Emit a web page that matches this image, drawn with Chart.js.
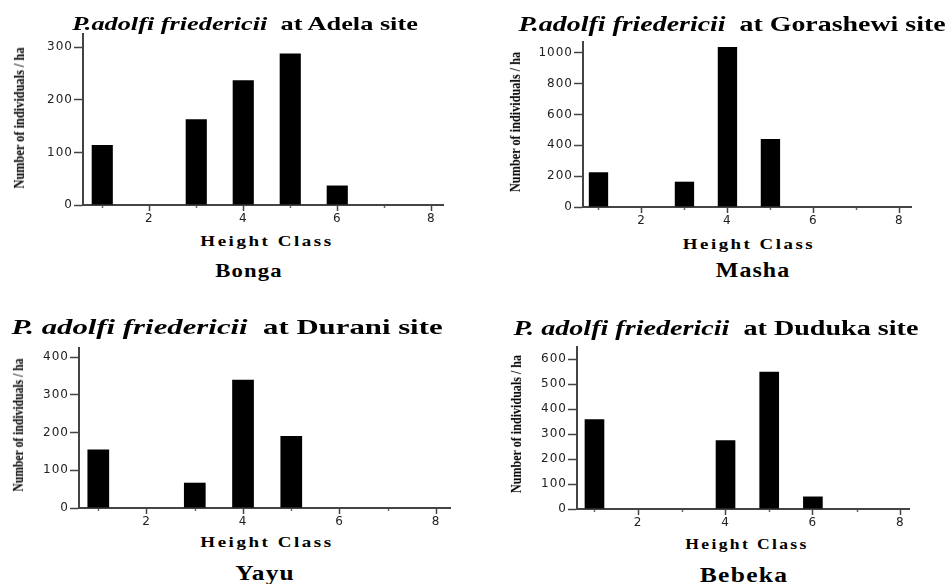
<!DOCTYPE html>
<html>
<head>
<meta charset="utf-8">
<script src="https://cdn.jsdelivr.net/npm/chart.js@4.4.4/dist/chart.umd.min.js"></script>
<style>
  body { margin: 0; background: #fff; width: 949px; height: 584px; position: relative; overflow: hidden; font-family: "Liberation Serif", "Times New Roman", serif; }
  canvas { position: absolute; }
  .txt { position: absolute; white-space: nowrap; font-weight: bold; line-height: 1; color: #000; }
</style>
</head>
<body>
<script>
  // ---- data ----
  const heightClasses = [1, 2, 3, 4, 5, 6];
  const bongaValues  = [114, 0, 163, 237, 288, 37];
  const mashaValues  = [225, 0, 164, 1037, 440, 0];
  const yayuValues   = [155, 0, 67, 340, 191, 0];
  const bebekaValues = [360, 0, 0, 275, 550, 50];

  const xTickLabels = [2, 4, 6, 8];
  const xMinorTicks = [1, 3, 5, 7];
  const bongaYTicks  = [0, 100, 200, 300];
  const mashaYTicks  = [0, 200, 400, 600, 800, 1000];
  const yayuYTicks   = [0, 100, 200, 300, 400];
  const bebekaYTicks = [0, 100, 200, 300, 400, 500, 600];

  const speciesNames = ['P.adolfi friedericii', 'P.adolfi friedericii', 'P. adolfi friedericii', 'P. adolfi friedericii'];
  const siteTitles   = ['at Adela site', 'at Gorashewi site', 'at Durani site', 'at Duduka site'];
  const forestNames  = ['Bonga', 'Masha', 'Yayu', 'Bebeka'];
  const xAxisTitle = 'Height Class';
  const yAxisTitle = 'Number of individuals / ha';

  // ---- layout (pixel geometry of each panel) ----
  const panels = [
    { values: bongaValues,  yTicks: bongaYTicks,  yMax: 325,  xMin: 0.59, xMax: 8.25, area: [83, 443, 34, 205],
      title: { cx: 245, cy: 23, w: 346, fs: 19 }, xt: { cx: 266.5, cy: 241, w: 133 }, site: { cx: 249, cy: 269.5, w: 68, fs: 19 }, yt: { cx: 18.5, cy: 118, len: 141 } },
    { values: mashaValues,  yTicks: mashaYTicks,  yMax: 1069, xMin: 0.64, xMax: 8.27, area: [583, 911, 42, 207],
      title: { cx: 731.5, cy: 23.5, w: 427, fs: 20 }, xt: { cx: 749, cy: 244, w: 132 }, site: { cx: 752.5, cy: 269.5, w: 75, fs: 22 }, yt: { cx: 515, cy: 122, len: 140 } },
    { values: yayuValues,   yTicks: yayuYTicks,   yMax: 424,  xMin: 0.6,  xMax: 8.29, area: [79, 450, 348, 508],
      title: { cx: 227, cy: 327, w: 431, fs: 22 }, xt: { cx: 266.7, cy: 542, w: 133 }, site: { cx: 265, cy: 572.5, w: 60, fs: 22 }, yt: { cx: 18, cy: 425, len: 133 } },
    { values: bebekaValues, yTicks: bebekaYTicks, yMax: 649,  xMin: 0.6,  xMax: 8.2,  area: [577, 909, 347, 509],
      title: { cx: 715.5, cy: 328.3, w: 405, fs: 20 }, xt: { cx: 746.7, cy: 543.5, w: 123 }, site: { cx: 744, cy: 575, w: 88, fs: 20 }, yt: { cx: 516, cy: 424, len: 138 } }
  ];

  const PAD_TOP = 10, PAD_RIGHT = 12, X_AXIS_H = 24, Y_AXIS_W = 60;
  const AXIS_COLOR = '#444';
  const TICK_FONT = { family: 'DejaVu Sans', size: 12 };

  // small unlabeled ticks at the odd height classes
  const minorTicksPlugin = {
    id: 'minorTicks',
    afterDraw(chart) {
      const xs = chart.scales.x, ctx = chart.ctx, y0 = chart.chartArea.bottom;
      ctx.save();
      ctx.strokeStyle = '#666';
      ctx.lineWidth = 1.5;
      xMinorTicks.forEach(function (v) {
        const px = Math.round(xs.getPixelForValue(v)) + 0.5;
        ctx.beginPath();
        ctx.moveTo(px, y0 + 1);
        ctx.lineTo(px, y0 + 3);
        ctx.stroke();
      });
      ctx.restore();
    }
  };

  // the scanned figure is stretched sideways; widen the tick digits a little
  const spacingPlugin = {
    id: 'tickSpacing',
    beforeDraw(chart) { chart.ctx.letterSpacing = '1px'; },
    afterDraw(chart) { chart.ctx.letterSpacing = '0px'; }
  };

  function plainNumber(v) { return String(v); }

  function addText(html, styles) {
    const el = document.createElement('div');
    el.className = 'txt';
    el.innerHTML = html;
    Object.assign(el.style, styles);
    document.body.appendChild(el);
    return el;
  }

  // horizontal text, centred at (cx, cy) and stretched to width w
  function placeText(html, box, fs, extra) {
    const el = addText(html, Object.assign({ left: box.cx + 'px', top: box.cy + 'px', fontSize: fs + 'px' }, extra || {}));
    const sx = box.w / el.offsetWidth;
    el.style.transform = 'translate(-50%,-50%) scaleX(' + sx.toFixed(3) + ')';
    return el;
  }

  // rotated y-axis label, stretched to length len
  function placeYTitle(box) {
    const el = addText(yAxisTitle, { left: box.cx + 'px', top: box.cy + 'px', fontSize: '12px' });
    const sx = box.len / el.offsetWidth;
    el.style.transform = 'translate(-50%,-50%) rotate(-90deg) scaleX(' + sx.toFixed(3) + ') scaleY(1.3)';
  }

  panels.forEach(function (p, i) {
    const [L, R, T, B] = p.area;
    const cLeft = L - Y_AXIS_W;
    const cTop = T - PAD_TOP;
    const canvas = document.createElement('canvas');
    canvas.width = R + PAD_RIGHT - cLeft;
    canvas.height = B + X_AXIS_H - cTop;
    canvas.style.left = cLeft + 'px';
    canvas.style.top = cTop + 'px';
    document.body.appendChild(canvas);

    new Chart(canvas, {
      type: 'bar',
      data: {
        datasets: [{
          data: heightClasses.map(function (c, k) { return { x: c, y: p.values[k] }; }),
          backgroundColor: '#000',
          borderWidth: 0,
          barPercentage: 0.45,
          categoryPercentage: 1
        }]
      },
      options: {
        responsive: false,
        animation: false,
        devicePixelRatio: 1,
        layout: { padding: { top: PAD_TOP, right: PAD_RIGHT, left: 0, bottom: 0 } },
        plugins: { legend: { display: false }, tooltip: { enabled: false } },
        scales: {
          x: {
            type: 'linear',
            min: p.xMin,
            max: p.xMax,
            offset: false,
            afterFit: function (s) { s.height = X_AXIS_H; },
            afterBuildTicks: function (s) { s.ticks = xTickLabels.map(function (v) { return { value: v }; }); },
            grid: { drawOnChartArea: false, offset: false, tickLength: 6, tickColor: AXIS_COLOR, tickWidth: 1.5 },
            border: { color: AXIS_COLOR, width: 2 },
            ticks: { font: TICK_FONT, color: '#222', padding: 1, maxRotation: 0, autoSkip: false, callback: plainNumber }
          },
          y: {
            min: 0,
            max: p.yMax,
            afterFit: function (s) { s.width = Y_AXIS_W; },
            afterBuildTicks: function (s) { s.ticks = p.yTicks.map(function (v) { return { value: v }; }); },
            grid: { drawOnChartArea: false, tickLength: 9, tickColor: AXIS_COLOR, tickWidth: 1.5 },
            border: { color: AXIS_COLOR, width: 2 },
            ticks: { font: TICK_FONT, color: '#222', padding: 1, autoSkip: false, callback: plainNumber }
          }
        }
      },
      plugins: [minorTicksPlugin, spacingPlugin]
    });

    placeText('<i>' + speciesNames[i] + '</i>&nbsp;&nbsp;' + siteTitles[i], p.title, p.title.fs);
    placeText(xAxisTitle, p.xt, 15, { letterSpacing: '2px' });
    placeText(forestNames[i], p.site, p.site.fs, { letterSpacing: '1px' });
    placeYTitle(p.yt);
  });
</script>
</body>
</html>
